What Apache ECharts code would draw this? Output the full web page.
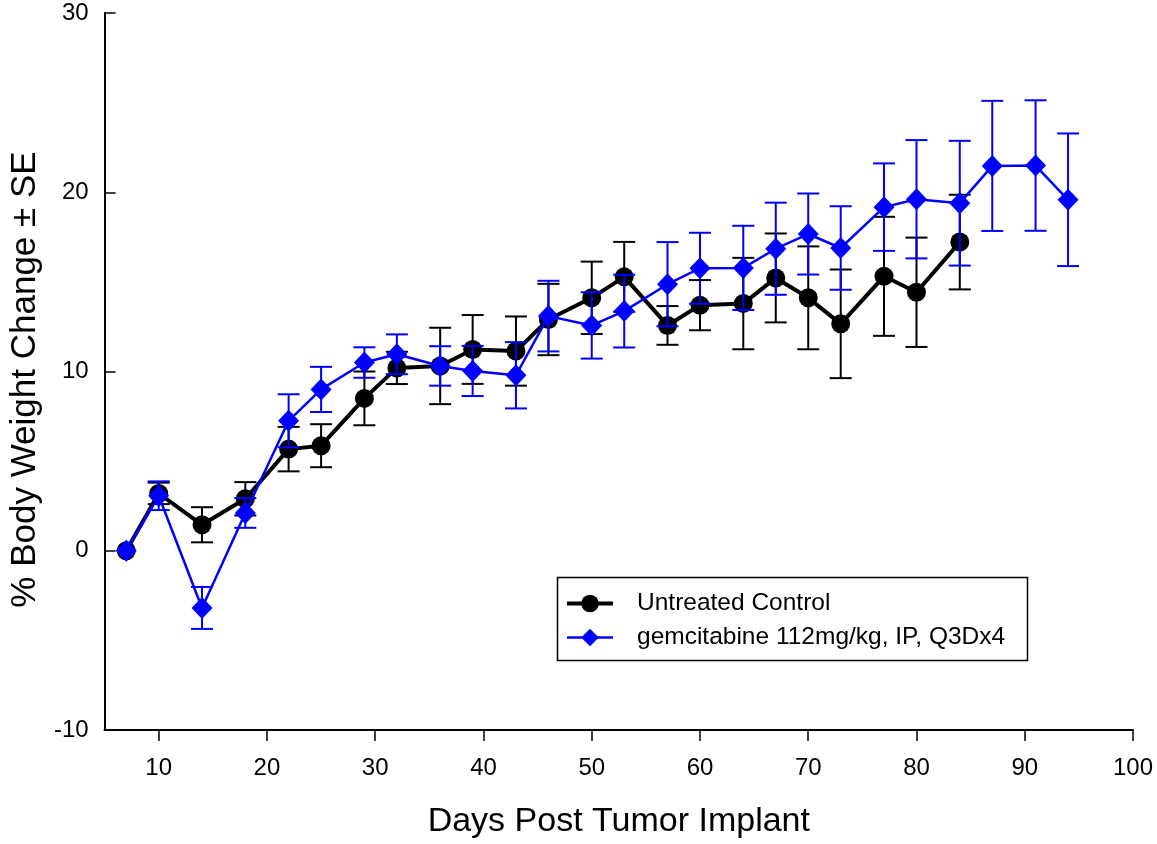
<!DOCTYPE html>
<html>
<head>
<meta charset="utf-8">
<script src="https://cdn.jsdelivr.net/npm/echarts@6/dist/echarts.min.js"></script>
<style>
html,body{margin:0;padding:0;background:#fff;}
#chart{width:1157px;height:844px;}
</style>
</head>
<body>
<div id="chart"></div>
<script>
// ---- data ----
const controlDays = [7,10,14,18,22,25,29,32,36,39,43,46,50,53,57,60,64,67,70,73,77,80,84];
const controlMean = [0,3.2,1.45,2.9,5.67,5.86,8.5,10.2,10.31,11.23,11.14,12.9,14.11,15.28,12.57,13.7,13.79,15.22,14.11,12.66,15.31,14.42,17.22];
const controlSE   = [0,0.6,0.98,0.93,1.24,1.2,1.5,0.9,2.13,1.92,1.93,1.99,2.02,1.95,1.08,1.4,2.55,2.48,2.87,3.03,3.32,3.05,2.64];

const gemDays = [7,10,14,18,22,25,29,32,36,39,43,46,50,53,57,60,64,67,70,73,77,80,84,87,91,94];
const gemMean = [0,3.07,-3.19,2.11,7.25,9.0,10.5,10.96,10.31,10.03,9.79,13.09,12.57,13.37,14.87,15.76,15.78,16.85,17.67,16.89,19.17,19.61,19.39,21.47,21.49,19.58];
const gemSE   = [0,0.8,1.17,0.83,1.48,1.26,0.85,1.11,1.1,1.4,1.85,1.97,1.85,2.03,2.35,1.98,2.35,2.57,2.26,2.33,2.44,3.3,3.48,3.63,3.64,3.7];

const xTickValues = [10,20,30,40,50,60,70,80,90,100];
const seriesNames = ['Untreated Control','gemcitabine 112mg/kg, IP, Q3Dx4'];
const xTitle = 'Days Post Tumor Implant';
const yTitle = '% Body Weight Change \u00B1 SE';

// ---- build ----
const FONT = 'Liberation Sans, Arial, sans-serif';
function pts(days, mean){ return days.map((d,i)=>[d, mean[i]]); }
function errs(days, mean, se){
  const out = [];
  days.forEach((d,i)=>{ if (se[i] > 0) out.push([d, mean[i]-se[i], mean[i]+se[i]]); });
  return out;
}
function errSeries(data, color, z){
  return {
    type:'custom',
    data:data,
    silent:true,
    z:z,
    encode:{x:0, y:[1,2]},
    renderItem:function(params, api){
      const x = api.value(0), lo = api.value(1), hi = api.value(2);
      const a = api.coord([x, lo]), b = api.coord([x, hi]);
      const hw = 11;
      const st = {stroke:color, lineWidth:2};
      return {type:'group', children:[
        {type:'line', shape:{x1:a[0],y1:a[1],x2:b[0],y2:b[1]}, style:st},
        {type:'line', shape:{x1:a[0]-hw,y1:a[1],x2:a[0]+hw,y2:a[1]}, style:st},
        {type:'line', shape:{x1:b[0]-hw,y1:b[1],x2:b[0]+hw,y2:b[1]}, style:st}
      ]};
    }
  };
}

const chart = echarts.init(document.getElementById('chart'), null, {renderer:'canvas'});
chart.setOption({
  backgroundColor:'#fff',
  animation:false,
  grid:{left:104, right:24, top:13, bottom:112, containLabel:false},
  xAxis:{
    type:'value', min:5, max:100,
    axisLine:{show:true, onZero:false, lineStyle:{color:'#000', width:2}},
    axisTick:{show:true, inside:false, length:11, lineStyle:{color:'#000', width:1.5}, customValues:xTickValues},
    axisLabel:{color:'#000', fontSize:24, fontFamily:FONT, margin:26, customValues:xTickValues},
    splitLine:{show:false},
    name:xTitle, nameLocation:'middle', nameGap:75,
    nameTextStyle:{color:'#000', fontSize:34, fontFamily:FONT}
  },
  yAxis:{
    type:'value', min:-10, max:30, interval:10,
    axisLine:{show:true, onZero:false, lineStyle:{color:'#000', width:2}},
    axisTick:{show:true, inside:true, length:11, lineStyle:{color:'#000', width:1.5}},
    axisLabel:{color:'#000', fontSize:24, fontFamily:FONT, margin:16},
    splitLine:{show:false},
    name:yTitle, nameLocation:'middle', nameGap:60,
    nameTextStyle:{color:'#000', fontSize:35, fontFamily:FONT, padding:[0,16,0,0]}
  },
  legend:{
    data:[
      {name:seriesNames[0], lineStyle:{width:4, color:'#000'}},
      {name:seriesNames[1], lineStyle:{width:2.5, color:'#0000ff'}}
    ],
    orient:'vertical',
    left:560, top:586,
    itemWidth:46, itemHeight:22, itemGap:9,
    textStyle:{color:'#000', fontSize:24.5, fontFamily:FONT, padding:[0,0,0,19]}
  },
  graphic:[{
    type:'rect', left:555, top:575, z:100, silent:true,
    shape:{width:470, height:83},
    style:{fill:null, stroke:'#000', lineWidth:1.5}
  }],
  series:[
    errSeries(errs(controlDays, controlMean, controlSE), '#000', 2),
    {
      name:seriesNames[0], type:'line', data:pts(controlDays, controlMean),
      symbol:'circle', symbolSize:19,
      lineStyle:{color:'#000', width:4},
      itemStyle:{color:'#000'},
      z:3
    },
    errSeries(errs(gemDays, gemMean, gemSE), '#0000ff', 4),
    {
      name:seriesNames[1], type:'line', data:pts(gemDays, gemMean),
      symbol:'diamond', symbolSize:[21,22],
      lineStyle:{color:'#0000ff', width:2.5},
      itemStyle:{color:'#0000ff'},
      z:5
    }
  ]
});
</script>
</body>
</html>
